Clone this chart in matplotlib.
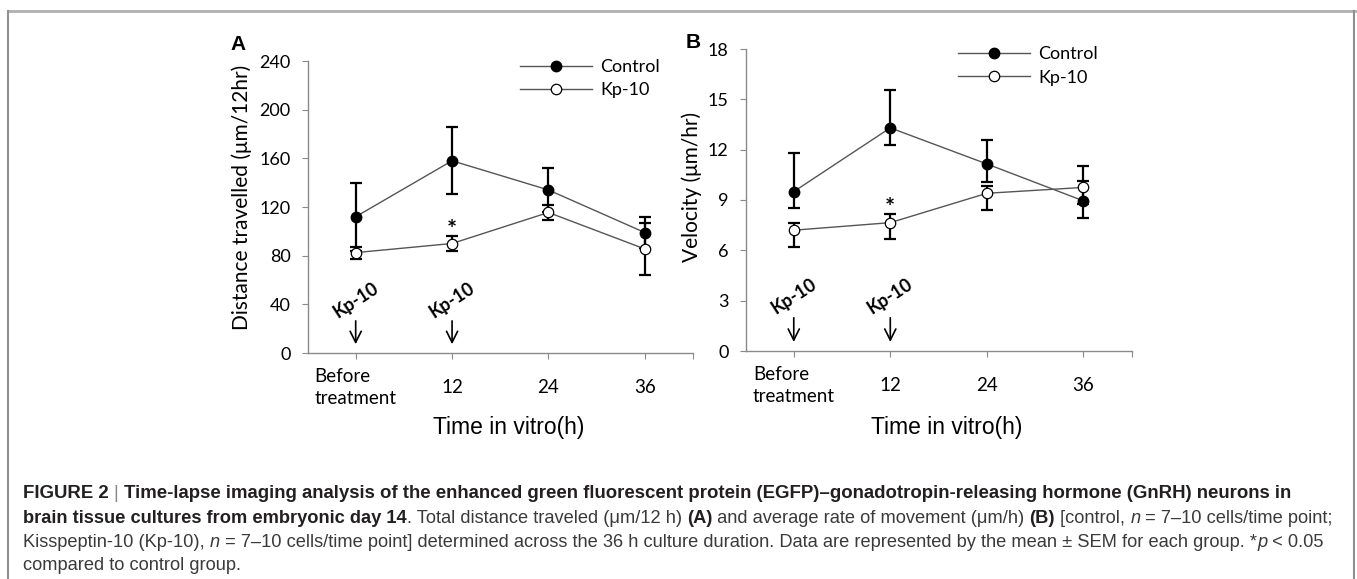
import numpy as np
import matplotlib
matplotlib.use('Agg')
import matplotlib.pyplot as plt
from matplotlib.lines import Line2D

# categories on the x axis
time_labels = ['Before\ntreatment', '12', '24', '36']
treated_idx = [0, 1]  # time points where Kp-10 was added

# panel A: distance travelled (um/12hr)
control_dist = [112, 158, 134, 99]
control_dist_err = [28, 27.5, 18, 13]
kp10_dist = [82.5, 90, 115.5, 85.5]
kp10_dist_err = [5, 6, 6.5, 21.5]

# panel B: velocity (um/hr), bars are not symmetric
control_vel = [9.5, 13.3, 11.15, 8.95]
control_vel_lo = [1.0, 1.0, 1.05, 1.0]
control_vel_hi = [2.3, 2.25, 1.45, 2.05]
kp10_vel = [7.2, 7.65, 9.4, 9.75]
kp10_vel_lo = [1.0, 1.0, 1.0, 1.0]
kp10_vel_hi = [0.4, 0.5, 0.45, 0.4]

sig_idx = [1]  # *p < 0.05

W, H = 1357, 579
fig = plt.figure(figsize=(W / 100, H / 100), dpi=100)
chart_font = 'Lato'
axis_grey = '#8a8a8a'


def px_box(left, top, right, bottom):
    return [left / W, 1 - bottom / H, (right - left) / W, (bottom - top) / H]


def draw_panel(ax, ctrl, ctrl_lo, ctrl_hi, kp, kp_lo, kp_hi, ymax, ystep, ylabel):
    x = np.arange(len(time_labels)) + 0.5
    ax.errorbar(x, ctrl, yerr=[ctrl_lo, ctrl_hi], fmt='none', ecolor='black',
                elinewidth=1.6, capsize=4, capthick=1.6, zorder=2)
    ax.errorbar(x, kp, yerr=[kp_lo, kp_hi], fmt='none', ecolor='black',
                elinewidth=1.6, capsize=4, capthick=1.6, zorder=2)
    ax.plot(x, ctrl, color='#555555', lw=1, marker='o', ms=7.5,
            mfc='black', mec='black', label='Control', zorder=3)
    ax.plot(x, kp, color='#555555', lw=1, marker='o', ms=7.5,
            mfc='white', mec='black', mew=0.9, label='Kp-10', zorder=4)

    ax.set_xlim(0, len(time_labels))
    ax.set_ylim(0, ymax)
    ax.set_yticks(np.arange(0, ymax + 0.1, ystep))
    ax.set_xticks(list(x) + [len(time_labels)])
    ax.set_xticklabels(time_labels + [''], fontsize=13.5, family=chart_font,
                       linespacing=1.34, va='center')
    for lab in ax.get_xticklabels()[:1]:
        lab.set_multialignment('left')
    for lab in ax.get_yticklabels():
        lab.set_family(chart_font)
        lab.set_fontsize(13)
    ax.tick_params(axis='x', length=4.3, color=axis_grey, pad=20.5)
    ax.tick_params(axis='y', length=4.3, color=axis_grey, pad=8)
    for s in ['top', 'right']:
        ax.spines[s].set_visible(False)
    for s in ['left', 'bottom']:
        ax.spines[s].set_color(axis_grey)
        ax.spines[s].set_linewidth(1)
    ax.set_ylabel(ylabel, fontsize=15, family=chart_font)
    ax.set_xlabel('Time in vitro(h)', fontsize=16.5, family='Liberation Sans')

    # Kp-10 treatment markers
    trans = ax.get_xaxis_transform()
    for i in treated_idx:
        ax.annotate('', xy=(x[i], 0.03), xytext=(x[i], 0.11), xycoords=trans,
                    arrowprops=dict(arrowstyle='->', lw=1.2, color='black',
                                    mutation_scale=20, shrinkA=0, shrinkB=0))
        ax.text(x[i], 0.18, 'Kp-10', transform=trans, rotation=33,
                ha='center', va='center', fontsize=13, fontweight='bold',
                family=chart_font)

    for i in sig_idx:
        ax.annotate('*', xy=(x[i], kp[i] + kp_hi[i]), xytext=(0, -1),
                    textcoords='offset points', ha='center', va='baseline',
                    fontsize=17, fontweight='bold', family=chart_font)

    ax.legend(loc='center left', frameon=False, numpoints=1,
              handlelength=4.0, handletextpad=0.45, labelspacing=0.4,
              borderpad=0, borderaxespad=0, prop={'family': chart_font, 'size': 13})


ax_a = fig.add_axes(px_box(307.5, 61, 693, 353))
draw_panel(ax_a, control_dist, control_dist_err, control_dist_err,
           kp10_dist, kp10_dist_err, kp10_dist_err, 240, 40,
           'Distance travelled (\u03bcm/12hr)')
ax_a.get_legend().set_bbox_to_anchor((520 / W, 1 - 78.5 / H), transform=fig.transFigure)
ax_a.yaxis.set_label_coords(252 / W, 1 - 197 / H, transform=fig.transFigure)
ax_a.xaxis.set_label_coords(509 / W, 1 - 416 / H, transform=fig.transFigure)

ax_b = fig.add_axes(px_box(745.5, 49, 1131.6, 351))
draw_panel(ax_b, control_vel, control_vel_lo, control_vel_hi,
           kp10_vel, kp10_vel_lo, kp10_vel_hi, 18, 3,
           'Velocity (\u03bcm/hr)')
ax_b.get_legend().set_bbox_to_anchor((958 / W, 1 - 66 / H), transform=fig.transFigure)
ax_b.yaxis.set_label_coords(702 / W, 1 - 187 / H, transform=fig.transFigure)
ax_b.xaxis.set_label_coords(947 / W, 1 - 416 / H, transform=fig.transFigure)

fig.text(238 / W, 1 - 45 / H, 'A', fontsize=15, fontweight='bold',
         family='Liberation Sans', ha='center', va='center')
fig.text(693 / W, 1 - 43 / H, 'B', fontsize=15, fontweight='bold',
         family='Liberation Sans', ha='center', va='center')

# frame around the figure
fig.add_artist(Line2D([8 / W, 1355 / W], [1 - 11 / H, 1 - 11 / H],
                      transform=fig.transFigure, color='#b0b0b0', lw=2))
fig.add_artist(Line2D([8 / W, 8 / W], [0, 1 - 11 / H],
                      transform=fig.transFigure, color='#909090', lw=1.5))
fig.add_artist(Line2D([1354 / W, 1354 / W], [0, 1 - 11 / H],
                      transform=fig.transFigure, color='#909090', lw=1.5))

# caption, built from styled pieces
renderer = fig.canvas.get_renderer()
cap_font = 'Liberation Sans'
bold_col = '#231f20'
text_col = '#3a3a3a'
B = dict(fontweight='bold', color=bold_col)
N = dict(color=text_col)
I = dict(fontstyle='italic', color=text_col)

caption = [
    [('FIGURE 2 ', B), ('| ', dict(color='#888888')),
     ('Time-lapse imaging analysis of the enhanced green fluorescent protein (EGFP)\u2013gonadotropin-releasing hormone (GnRH) neurons in', B)],
    [('brain tissue cultures from embryonic day 14', B),
     ('. Total distance traveled (\u03bcm/12 h) ', N), ('(A)', B),
     (' and average rate of movement (\u03bcm/h) ', N), ('(B)', B),
     (' [control, ', N), ('n', I), (' = 7\u201310 cells/time point;', N)],
    [('Kisspeptin-10 (Kp-10), ', N), ('n', I),
     (' = 7\u201310 cells/time point] determined across the 36 h culture duration. Data are represented by the mean \u00b1 SEM for each group. *', N),
     ('p', I), (' < 0.05', N)],
    [('compared to control group.', N)],
]
caption_y = [492, 516.5, 540.5, 563.5]
caption_end = [1300, 1334, 1326, None]


def seg_width(s, size, kw):
    t = fig.text(0, 0, '|' + s + '|', fontsize=size, family=cap_font, **kw)
    t2 = fig.text(0, 0, '||', fontsize=size, family=cap_font, **kw)
    w = t.get_window_extent(renderer).width - t2.get_window_extent(renderer).width
    t.remove()
    t2.remove()
    return w


x0 = 23
size = 12
for parts, y, end in zip(caption, caption_y, caption_end):
    if end is not None:
        w10 = sum(seg_width(s, 10, kw) for s, kw in parts)
        size = 10 * (end - x0) / w10
    xpos = x0
    for s, kw in parts:
        fig.text(xpos / W, 1 - y / H, s, fontsize=size, family=cap_font,
                 ha='left', va='center_baseline', **kw)
        xpos += seg_width(s, size, kw)

fig.savefig('out.png', dpi=100)
